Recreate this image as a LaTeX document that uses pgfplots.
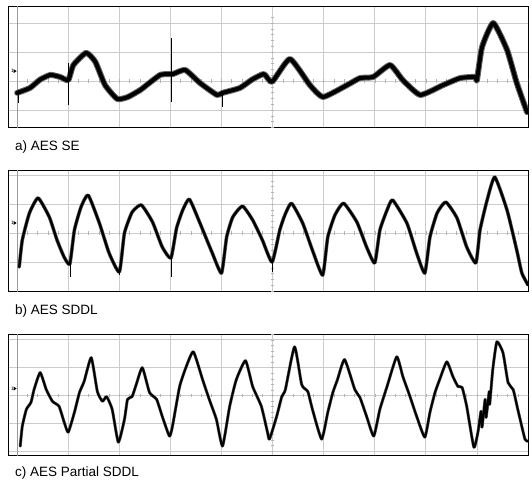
\documentclass[border=0pt]{standalone}
\usepackage{pgfplots}
\pgfplotsset{compat=1.18}
\usepackage{fontspec}
\setmainfont{Liberation Sans}

\pgfplotsset{
  osc/.style={
    scale only axis, width=519pt, height=121pt,
    xmin=-0.16, xmax=10,
    xtick={0,1,...,10}, ytick={-2,-1,...,2},
    xticklabels={}, yticklabels={},
    major tick length=0pt,
    grid=major,
    major grid style={draw=black!20, line width=0.7pt},
    axis line style={black, line width=1pt},
    anchor=north west,
    clip=true,
  },
  halo/.style={draw=black!60, line width=#1, line join=round, line cap=round, no marks, smooth, tension=0.3},
  trace/.style={draw=black, line width=#1, line join=round, line cap=round, no marks, smooth, tension=0.3},
  spike/.style={draw=black, line width=1pt, no marks},
}

\newcommand{\centerticks}{%
  \pgfplotsinvokeforeach{0.2,0.4,...,9.9}{\draw[black!30, line width=0.5pt] (axis cs:##1,-0.06) -- (axis cs:##1,0.06);}%
  \pgfplotsinvokeforeach{-2.0,-1.8,...,2.1}{\draw[black!30, line width=0.5pt] (axis cs:4.97,##1) -- (axis cs:5.03,##1);}%
  \draw[black!40, line width=0.9pt] (axis cs:0,-3) -- (axis cs:0,3);%
}
\newcommand{\marker}[1]{%
  \node[inner sep=0pt, font=\fontsize{5}{5}\selectfont, anchor=east] at (axis cs:-0.06,#1) {1};%
  \fill[black] (axis cs:-0.07,#1) ++(0pt,2pt) -- ++(3pt,-2pt) -- ++(-3pt,-2pt) -- cycle;%
}

\begin{document}
\begin{tikzpicture}
\path[use as bounding box] (0,0) rectangle (532pt,-481pt);

% ---------- a) AES SE ----------
\begin{axis}[osc, at={(9pt,-7pt)}, ymin=-1.62, ymax=2.55]
\centerticks
\addplot[halo=6pt] coordinates {
(0.00,-0.41) (0.25,-0.24) (0.45,0.05) (0.65,0.21)
(0.84,0.14) (1.00,0.03) (1.10,0.55)
(1.35,0.97) (1.53,0.66) (1.72,-0.14) (1.96,-0.62) (2.17,-0.55) (2.41,-0.31)
(2.60,-0.05) (2.80,0.21) (2.95,0.24) (3.05,0.24) (3.29,0.38) (3.58,-0.07) (3.91,-0.48) (4.02,-0.41)
(4.36,-0.24) (4.60,0.05) (4.83,0.24) (4.99,-0.03) (5.34,0.76)
(5.73,-0.14) (5.99,-0.55) (6.46,-0.14) (6.71,0.10) (6.97,0.14) (7.30,0.55)
(7.55,0.03) (7.89,-0.48) (8.34,-0.14) (8.67,0.10) (8.96,0.14) (9.00,0.03)
(9.10,1.17) (9.32,2.00) (9.59,1.07) (9.78,-0.07) (9.98,-1.07)
};
\addplot[trace=4pt] coordinates {
(0.00,-0.41) (0.25,-0.24) (0.45,0.05) (0.65,0.21)
(0.84,0.14) (1.00,0.03) (1.10,0.55)
(1.35,0.97) (1.53,0.66) (1.72,-0.14) (1.96,-0.62) (2.17,-0.55) (2.41,-0.31)
(2.60,-0.05) (2.80,0.21) (2.95,0.24) (3.05,0.24) (3.29,0.38) (3.58,-0.07) (3.91,-0.48) (4.02,-0.41)
(4.36,-0.24) (4.60,0.05) (4.83,0.24) (4.99,-0.03) (5.34,0.76)
(5.73,-0.14) (5.99,-0.55) (6.46,-0.14) (6.71,0.10) (6.97,0.14) (7.30,0.55)
(7.55,0.03) (7.89,-0.48) (8.34,-0.14) (8.67,0.10) (8.96,0.14) (9.00,0.03)
(9.10,1.17) (9.32,2.00) (9.59,1.07) (9.78,-0.07) (9.98,-1.07)
};
\addplot[spike] coordinates {(0.02,-0.30) (0.02,-0.76)};
\addplot[spike] coordinates {(1.00,0.62) (1.00,-0.83)};
\addplot[spike] coordinates {(3.03,1.48) (3.03,-0.72)};
\addplot[spike] coordinates {(4.01,-0.35) (4.01,-0.90)};
\marker{0.34}
\end{axis}
\node[anchor=west, inner sep=0pt, font=\fontsize{13.5}{16}\selectfont] at (15pt,-147pt) {a) AES SE};

% ---------- b) AES SDDL ----------
\begin{axis}[osc, at={(9pt,-171pt)}, ymin=-2.03, ymax=2.14]
\centerticks
\addplot[halo=3.6pt] coordinates {
(0.04,-1.17) (0.10,-0.24) (0.24,0.69) (0.41,1.21) (0.63,0.55) (0.78,-0.24)
(0.92,-0.83) (1.03,-1.07) (1.12,0.10) (1.25,0.90)
(1.39,1.31) (1.61,0.34) (1.80,-0.69) (2.00,-1.34)
(2.10,0.00) (2.25,0.72) (2.43,0.97) (2.65,0.38) (2.84,-0.48) (3.01,-0.86)
(3.12,0.17) (3.24,0.79) (3.37,1.17) (3.57,0.38)
(3.82,-0.69) (4.00,-1.38) (4.10,-0.14) (4.22,0.55) (4.41,0.93) (4.61,0.45)
(4.80,-0.24) (4.99,-1.00) (5.14,0.10) (5.24,0.62)
(5.37,1.03) (5.59,0.34) (5.78,-0.59) (5.98,-1.45) (6.08,-0.14) (6.22,0.62)
(6.39,1.03) (6.65,0.38) (6.84,-0.48) (7.00,-1.03) (7.10,0.10) (7.24,0.79)
(7.35,1.14) (7.63,0.34) (7.82,-0.69) (7.98,-1.38) (8.08,-0.14) (8.22,0.69)
(8.39,1.07) (8.61,0.52) (8.80,-0.48) (8.98,-1.03) (9.06,0.10) (9.20,1.14)
(9.35,1.93) (9.59,0.79) (9.78,-0.59) (9.88,-1.38) (10.0,-1.79)
};
\addplot[trace=2.4pt] coordinates {
(0.04,-1.17) (0.10,-0.24) (0.24,0.69) (0.41,1.21) (0.63,0.55) (0.78,-0.24)
(0.92,-0.83) (1.03,-1.07) (1.12,0.10) (1.25,0.90)
(1.39,1.31) (1.61,0.34) (1.80,-0.69) (2.00,-1.34)
(2.10,0.00) (2.25,0.72) (2.43,0.97) (2.65,0.38) (2.84,-0.48) (3.01,-0.86)
(3.12,0.17) (3.24,0.79) (3.37,1.17) (3.57,0.38)
(3.82,-0.69) (4.00,-1.38) (4.10,-0.14) (4.22,0.55) (4.41,0.93) (4.61,0.45)
(4.80,-0.24) (4.99,-1.00) (5.14,0.10) (5.24,0.62)
(5.37,1.03) (5.59,0.34) (5.78,-0.59) (5.98,-1.45) (6.08,-0.14) (6.22,0.62)
(6.39,1.03) (6.65,0.38) (6.84,-0.48) (7.00,-1.03) (7.10,0.10) (7.24,0.79)
(7.35,1.14) (7.63,0.34) (7.82,-0.69) (7.98,-1.38) (8.08,-0.14) (8.22,0.69)
(8.39,1.07) (8.61,0.52) (8.80,-0.48) (8.98,-1.03) (9.06,0.10) (9.20,1.14)
(9.35,1.93) (9.59,0.79) (9.78,-0.59) (9.88,-1.38) (10.0,-1.79)
};
\addplot[spike] coordinates {(1.04,-0.9) (1.04,-1.52)};
\addplot[spike] coordinates {(2.01,-1.2) (2.01,-1.45)};
\addplot[spike] coordinates {(3.02,-0.7) (3.02,-1.52)};
\addplot[spike] coordinates {(5.00,-0.9) (5.00,-1.34)};
\marker{0.35}
\end{axis}
\node[anchor=west, inner sep=0pt, font=\fontsize{13.5}{16}\selectfont] at (15pt,-311pt) {b) AES SDDL};

% ---------- c) AES Partial SDDL ----------
\begin{axis}[osc, at={(9pt,-334pt)}, ymin=-2.14, ymax=2.21]
\centerticks
\addplot[halo=3pt] coordinates {
(0.06,-1.82) (0.10,-1.11) (0.18,-0.50) (0.27,-0.25) (0.33,0.21) (0.45,0.82)
(0.57,0.21) (0.69,-0.21) (0.82,-0.39) (0.92,-0.96) (1.00,-1.32) (1.12,-0.61)
(1.22,0.11) (1.31,0.50) (1.45,1.36) (1.57,0.14) (1.67,-0.21) (1.75,-0.04)
(1.86,-0.50) (1.98,-1.68) (2.10,-0.86) (2.16,-0.14) (2.25,-0.04) (2.33,0.39)
(2.45,1.00) (2.59,0.11) (2.73,-0.14) (2.84,-0.75) (2.98,-1.46) (3.04,-1.11)
(3.18,0.32) (3.31,1.04) (3.45,1.57) (3.63,0.57) (3.76,-0.14) (3.90,-0.86)
(4.02,-1.82) (4.16,-0.39) (4.29,0.57) (4.47,1.25) (4.61,0.32) (4.78,-0.39)
(4.90,-1.32) (4.94,-1.57) (5.08,-0.75) (5.18,-0.04) (5.25,0.21) (5.43,1.75)
(5.57,0.39) (5.69,0.14) (5.78,-0.50) (5.96,-1.57) (6.08,-0.61) (6.18,0.11)
(6.27,0.57) (6.41,1.29) (6.61,0.21) (6.71,-0.07) (6.84,-0.75) (6.98,-1.46)
(7.10,-0.50) (7.24,0.32) (7.43,1.39) (7.55,0.68) (7.69,-0.04) (7.82,-0.75)
(7.98,-1.50) (8.08,-0.61) (8.18,0.11) (8.27,0.57) (8.41,1.21) (8.53,0.68)
(8.63,0.32) (8.71,0.29) (8.80,-0.39) (8.94,-1.86) (9.02,-1.32) (9.08,-0.57)
(9.10,-1.14) (9.16,-0.14) (9.18,-0.79) (9.24,0.14) (9.25,-0.32) (9.31,0.93)
(9.39,1.93) (9.51,1.54) (9.61,0.46) (9.71,0.21) (9.80,-0.50) (9.94,-1.57)
(10.0,-1.64)
};
\addplot[trace=2pt] coordinates {
(0.06,-1.82) (0.10,-1.11) (0.18,-0.50) (0.27,-0.25) (0.33,0.21) (0.45,0.82)
(0.57,0.21) (0.69,-0.21) (0.82,-0.39) (0.92,-0.96) (1.00,-1.32) (1.12,-0.61)
(1.22,0.11) (1.31,0.50) (1.45,1.36) (1.57,0.14) (1.67,-0.21) (1.75,-0.04)
(1.86,-0.50) (1.98,-1.68) (2.10,-0.86) (2.16,-0.14) (2.25,-0.04) (2.33,0.39)
(2.45,1.00) (2.59,0.11) (2.73,-0.14) (2.84,-0.75) (2.98,-1.46) (3.04,-1.11)
(3.18,0.32) (3.31,1.04) (3.45,1.57) (3.63,0.57) (3.76,-0.14) (3.90,-0.86)
(4.02,-1.82) (4.16,-0.39) (4.29,0.57) (4.47,1.25) (4.61,0.32) (4.78,-0.39)
(4.90,-1.32) (4.94,-1.57) (5.08,-0.75) (5.18,-0.04) (5.25,0.21) (5.43,1.75)
(5.57,0.39) (5.69,0.14) (5.78,-0.50) (5.96,-1.57) (6.08,-0.61) (6.18,0.11)
(6.27,0.57) (6.41,1.29) (6.61,0.21) (6.71,-0.07) (6.84,-0.75) (6.98,-1.46)
(7.10,-0.50) (7.24,0.32) (7.43,1.39) (7.55,0.68) (7.69,-0.04) (7.82,-0.75)
(7.98,-1.50) (8.08,-0.61) (8.18,0.11) (8.27,0.57) (8.41,1.21) (8.53,0.68)
(8.63,0.32) (8.71,0.29) (8.80,-0.39) (8.94,-1.86) (9.02,-1.32) (9.08,-0.57)
(9.10,-1.14) (9.16,-0.14) (9.18,-0.79) (9.24,0.14) (9.25,-0.32) (9.31,0.93)
(9.39,1.93) (9.51,1.54) (9.61,0.46) (9.71,0.21) (9.80,-0.50) (9.94,-1.57)
(10.0,-1.64)
};
\marker{0.25}
\end{axis}
\node[anchor=west, inner sep=0pt, font=\fontsize{13.5}{16}\selectfont] at (15pt,-473pt) {c) AES Partial SDDL};
\end{tikzpicture}
\end{document}
